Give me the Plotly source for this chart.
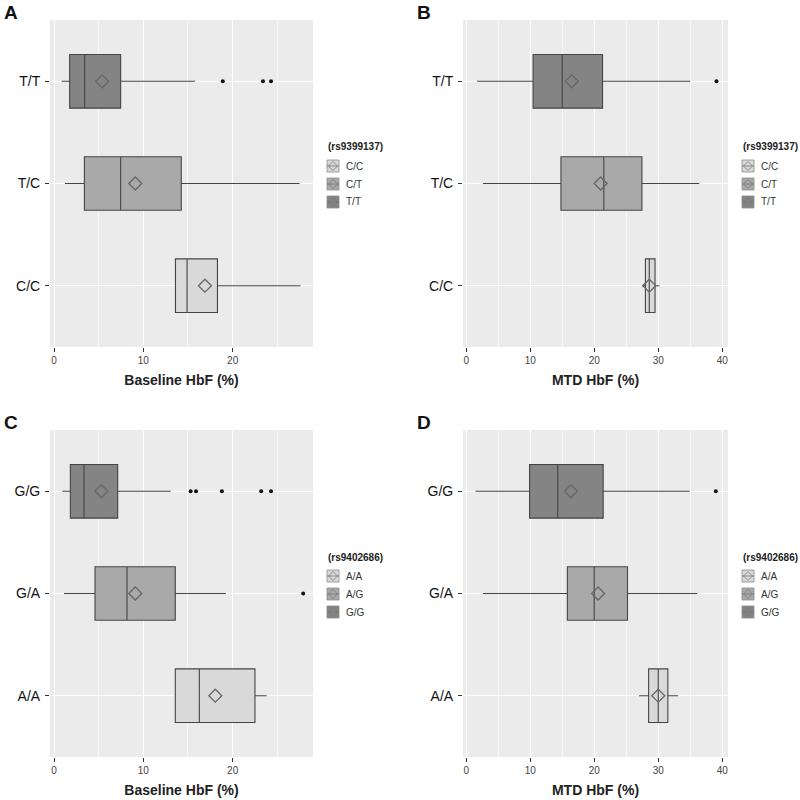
import plotly.graph_objects as go

# ---------------- data ----------------
cats_ab = ["C/C", "T/C", "T/T"]
cats_cd = ["A/A", "G/A", "G/G"]

# Panel A: Baseline HbF by rs9399137
a_low = [13.6, 1.23, 0.86]
a_q1 = [13.6, 3.4, 1.75]
a_med = [14.9, 7.46, 3.43]
a_q3 = [18.3, 14.25, 7.46]
a_high = [27.6, 27.5, 15.8]
a_mean = [16.9, 9.1, 5.4]
a_out_cat = ["T/T", "T/T", "T/T"]
a_out_val = [18.9, 23.4, 24.3]

# Panel B: MTD HbF by rs9399137
b_low = [27.45, 2.6, 1.7]
b_q1 = [28.0, 14.8, 10.45]
b_med = [28.6, 21.5, 15.0]
b_q3 = [29.5, 27.45, 21.3]
b_high = [30.2, 36.4, 35.0]
b_mean = [28.6, 21.0, 16.5]
b_out_cat = ["T/T"]
b_out_val = [39.1]

# Panel C: Baseline HbF by rs9402686
c_low = [13.58, 1.12, 0.93]
c_q1 = [13.58, 4.59, 1.83]
c_med = [16.27, 8.17, 3.36]
c_q3 = [22.5, 13.58, 7.13]
c_high = [23.8, 19.25, 13.06]
c_mean = [18.06, 9.1, 5.3]
c_out_cat = ["G/G", "G/G", "G/G", "G/G", "G/G", "G/A"]
c_out_val = [15.3, 15.9, 18.8, 23.2, 24.3, 27.9]

# Panel D: MTD HbF by rs9402686
d_low = [27.0, 2.6, 1.46]
d_q1 = [28.5, 15.8, 9.9]
d_med = [30.0, 20.0, 14.3]
d_q3 = [31.5, 25.2, 21.4]
d_high = [33.1, 36.1, 34.9]
d_mean = [30.0, 20.6, 16.35]
d_out_cat = ["G/G"]
d_out_val = [39.0]

legend_labels_ab = ["C/C", "C/T", "T/T"]
legend_labels_cd = ["A/A", "A/G", "G/G"]
legend_titles = ["(rs9399137)", "(rs9399137)", "(rs9402686)", "(rs9402686)"]
panel_letters = ["A", "B", "C", "D"]
x_titles = ["Baseline HbF (%)", "MTD HbF (%)", "Baseline HbF (%)", "MTD HbF (%)"]

# ---------------- style ----------------
fills = ["#d9d9d9", "#a9a9a9", "#848484"]
LINE = "#454545"
FONT = "Liberation Sans, Arial, Helvetica, sans-serif"
W = H = 800

def px(x):
    return x / W

def py(y):
    return 1 - y / H

panels = [
    dict(cats=cats_ab, low=a_low, q1=a_q1, med=a_med, q3=a_q3, high=a_high, mean=a_mean,
         oc=a_out_cat, ov=a_out_val, xr=[-0.45, 29.0], ticks=[0, 10, 20], minor=[5, 15, 25],
         x0=50, x1=313, y0=20, y1=347, leg=legend_labels_ab),
    dict(cats=cats_ab, low=b_low, q1=b_q1, med=b_med, q3=b_q3, high=b_high, mean=b_mean,
         oc=b_out_cat, ov=b_out_val, xr=[-0.5, 40.9], ticks=[0, 10, 20, 30, 40], minor=[5, 15, 25, 35],
         x0=463, x1=728, y0=20, y1=347, leg=legend_labels_ab),
    dict(cats=cats_cd, low=c_low, q1=c_q1, med=c_med, q3=c_q3, high=c_high, mean=c_mean,
         oc=c_out_cat, ov=c_out_val, xr=[-0.45, 29.0], ticks=[0, 10, 20], minor=[5, 15, 25],
         x0=50, x1=313, y0=430, y1=757, leg=legend_labels_cd),
    dict(cats=cats_cd, low=d_low, q1=d_q1, med=d_med, q3=d_q3, high=d_high, mean=d_mean,
         oc=d_out_cat, ov=d_out_val, xr=[-0.5, 40.9], ticks=[0, 10, 20, 30, 40], minor=[5, 15, 25, 35],
         x0=463, x1=728, y0=430, y1=757, leg=legend_labels_cd),
]

fig = go.Figure()
shapes = []
annotations = []
layout = {}

for i, p in enumerate(panels):
    n = "" if i == 0 else str(i + 1)
    xa, ya = "x" + n, "y" + n
    for j, c in enumerate(p["cats"]):
        fig.add_trace(go.Box(
            y=[c], q1=[p["q1"][j]], median=[p["med"][j]], q3=[p["q3"][j]],
            lowerfence=[p["low"][j]], upperfence=[p["high"][j]],
            orientation="h", fillcolor=fills[j], line=dict(color=LINE, width=1.1),
            whiskerwidth=0, boxpoints=False, showlegend=False,
            xaxis=xa, yaxis=ya, hoverinfo="skip",
        ))
    fig.add_trace(go.Scatter(
        x=p["mean"], y=p["cats"], mode="markers",
        marker=dict(symbol="diamond-open", size=10, color="#666666", line=dict(width=1.3)),
        showlegend=False, xaxis=xa, yaxis=ya, hoverinfo="skip"))
    fig.add_trace(go.Scatter(
        x=p["ov"], y=p["oc"], mode="markers",
        marker=dict(symbol="circle", size=4, color="#111111"),
        showlegend=False, xaxis=xa, yaxis=ya, hoverinfo="skip"))

    layout["xaxis" + n] = dict(
        domain=[px(p["x0"]), px(p["x1"])], anchor=ya, range=p["xr"],
        tickvals=p["ticks"], ticks="outside", ticklen=4, tickcolor="#333333",
        tickfont=dict(size=10, color="#444444", family=FONT),
        showgrid=True, gridcolor="white", gridwidth=1.4, zeroline=False,
        minor=dict(tickvals=p["minor"], showgrid=True, gridcolor="#f6f6f6", gridwidth=0.7, ticks=""),
        showline=False, fixedrange=True,
        title=dict(text="<b>" + x_titles[i] + "</b>", font=dict(size=14, color="#222222", family=FONT), standoff=10),
    )
    layout["yaxis" + n] = dict(
        domain=[py(p["y1"]), py(p["y0"])], anchor=xa, range=[-0.6, 2.6],
        type="category", categoryorder="array", categoryarray=p["cats"],
        ticks="outside", ticklen=4, tickcolor="#333333", ticklabelstandoff=2,
        tickfont=dict(size=14, color="#111111", family=FONT),
        showgrid=True, gridcolor="white", gridwidth=1.4, zeroline=False,
        showline=False, fixedrange=True,
    )
    # panel background
    shapes.append(dict(type="rect", xref="paper", yref="paper", layer="below",
                       x0=px(p["x0"]), x1=px(p["x1"]), y0=py(p["y1"]), y1=py(p["y0"]),
                       fillcolor="#ebebeb", line=dict(width=0)))
    # panel letter
    annotations.append(dict(text="<b>" + panel_letters[i] + "</b>", xref="paper", yref="paper",
                            x=px(p["x0"] - 48), y=py(p["y0"] - 8), xanchor="left", yanchor="middle",
                            showarrow=False, font=dict(size=19, color="#111111", family=FONT)))
    # legend
    lx = p["x1"] + 14
    ly = p["y0"] + 127
    annotations.append(dict(text="<b>" + legend_titles[i] + "</b>", xref="paper", yref="paper",
                            x=px(lx - 1), y=py(ly), xanchor="left", yanchor="middle",
                            showarrow=False, font=dict(size=10, color="#222222", family=FONT)))
    for k, lab in enumerate(p["leg"]):
        cy = ly + 19 + 18 * k
        cx = lx + 6
        s = 6
        shapes.append(dict(type="rect", xref="paper", yref="paper",
                           x0=px(cx - s), x1=px(cx + s), y0=py(cy + s), y1=py(cy - s),
                           fillcolor=fills[k], line=dict(color="#8a8a8a", width=0.8)))
        shapes.append(dict(type="line", xref="paper", yref="paper",
                           x0=px(cx - s), x1=px(cx + s), y0=py(cy), y1=py(cy),
                           line=dict(color="#777777", width=0.8)))
        d = 4.5
        path = "M {} {} L {} {} L {} {} L {} {} Z".format(
            px(cx - d), py(cy), px(cx), py(cy - d), px(cx + d), py(cy), px(cx), py(cy + d))
        shapes.append(dict(type="path", xref="paper", yref="paper", path=path,
                           fillcolor="rgba(0,0,0,0)", line=dict(color="#777777", width=0.8)))
        annotations.append(dict(text=lab, xref="paper", yref="paper",
                                x=px(lx + 17), y=py(cy), xanchor="left", yanchor="middle",
                                showarrow=False, font=dict(size=10, color="#333333", family=FONT)))

fig.update_layout(
    width=W, height=H, margin=dict(l=0, r=0, t=0, b=0),
    paper_bgcolor="white", plot_bgcolor="rgba(0,0,0,0)",
    boxgap=0.25, showlegend=False,
    shapes=shapes, annotations=annotations,
    font=dict(family=FONT),
    **layout,
)

fig.write_html("out.html", config={"displayModeBar": False},
               post_script="document.body.style.margin='0';document.body.style.overflow='hidden';")
